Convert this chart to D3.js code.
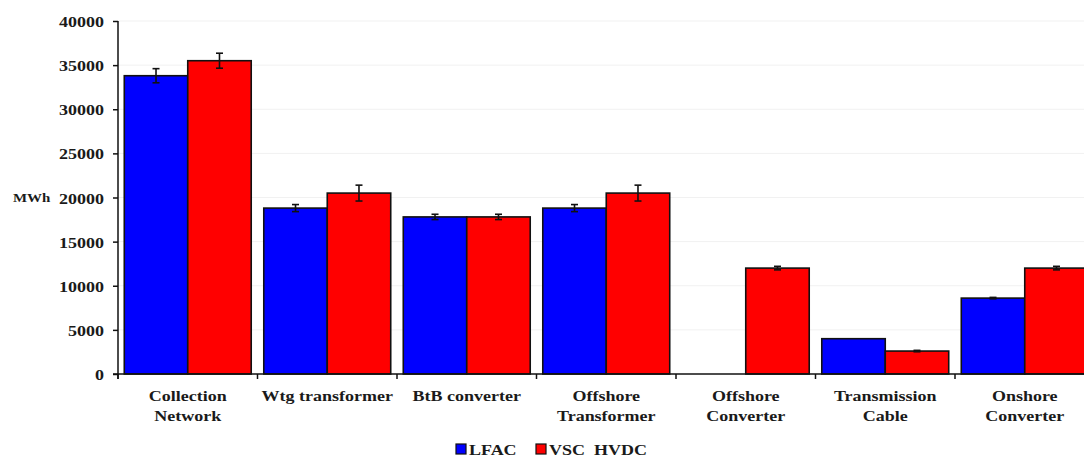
<!DOCTYPE html>
<html>
<head>
<meta charset="utf-8">
<script src="https://cdn.jsdelivr.net/npm/d3@7"></script>
<style>
  body { margin: 0; background: #fff; }
  svg { display: block; }
  text { font-family: "Liberation Serif", "Times New Roman", serif; font-weight: bold; fill: #1a1a1a; }
</style>
</head>
<body>
<svg id="chart" width="1084" height="457"></svg>
<script>
// Energy losses per component (MWh) for the two transmission options
const categories = [
  ["Collection", "Network"],
  ["Wtg transformer"],
  ["BtB converter"],
  ["Offshore", "Transformer"],
  ["Offshore", "Converter"],
  ["Transmission", "Cable"],
  ["Onshore", "Converter"]
];
const seriesNames = ["LFAC", "VSC  HVDC"];
const lfacValues = [33800, 18800, 17800, 18800, 0, 4000, 8600];
const lfacErrors = [800, 400, 300, 400, 0, 0, 80];
const hvdcValues = [35500, 20500, 17800, 20500, 12000, 2600, 12000];
const hvdcErrors = [850, 900, 300, 900, 200, 80, 200];
const yTicks = [0, 5000, 10000, 15000, 20000, 25000, 30000, 35000, 40000];
const yLabel = "MWh";
const colors = ["#0000ff", "#ff0000"];

const svg = d3.select("#chart");
const x0 = 118, yTop = 21, yBottom = 374;
const step = 139.5;
const xRight = x0 + step * categories.length;

const x = d3.scaleBand()
  .domain(d3.range(categories.length))
  .range([x0, xRight])
  .paddingInner(0.09)
  .paddingOuter(0.045);
const xs = d3.scaleBand().domain([0, 1]).range([0, x.bandwidth()]);
const y = d3.scaleLinear().domain([0, 40000]).range([yBottom, yTop]);

// faint horizontal gridlines
svg.append("g").selectAll("line")
  .data(yTicks.filter(d => d > 0))
  .join("line")
  .attr("x1", x0).attr("x2", 1084)
  .attr("y1", d => y(d)).attr("y2", d => y(d))
  .attr("stroke", "#f1f1f1").attr("stroke-width", 1);

// bars
const series = [
  { vals: lfacValues, errs: lfacErrors },
  { vals: hvdcValues, errs: hvdcErrors }
];
const barData = [];
categories.forEach((c, i) => {
  series.forEach((s, k) => {
    barData.push({ i, k, v: s.vals[i], e: s.errs[i] });
  });
});

svg.append("g").selectAll("rect")
  .data(barData.filter(d => d.v > 0))
  .join("rect")
  .attr("x", d => x(d.i) + xs(d.k))
  .attr("y", d => y(d.v))
  .attr("width", xs.bandwidth())
  .attr("height", d => y(0) - y(d.v))
  .attr("fill", d => colors[d.k])
  .attr("stroke", "#111").attr("stroke-width", 1.6);

// error bars
const eb = svg.append("g").attr("stroke", "#111").attr("stroke-width", 1.6);
barData.filter(d => d.v > 0 && d.e > 0).forEach(d => {
  const cx = x(d.i) + xs(d.k) + xs.bandwidth() / 2;
  eb.append("line").attr("x1", cx).attr("x2", cx)
    .attr("y1", y(d.v + d.e)).attr("y2", y(d.v - d.e));
  [d.v + d.e, d.v - d.e].forEach(t => {
    eb.append("line").attr("x1", cx - 3.5).attr("x2", cx + 3.5)
      .attr("y1", y(t)).attr("y2", y(t));
  });
});

// y axis
const yAxis = svg.append("g")
  .attr("transform", `translate(${x0},0)`)
  .call(d3.axisLeft(y).tickValues(yTicks).tickSize(5).tickPadding(9).tickFormat(d3.format("d")));
yAxis.select(".domain").attr("stroke", "#111").attr("stroke-width", 1.5)
  .attr("d", `M0,${yTop}V${yBottom + 5}`);
yAxis.selectAll(".tick line").attr("stroke", "#111").attr("stroke-width", 1.5);
yAxis.selectAll(".tick text")
  .attr("x", null).attr("dy", null)
  .attr("transform", "translate(-14,5.5) scale(1.2,1)")
  .style("font-size", "15px")
  .style("font-family", "'Liberation Serif', serif")
  .style("font-weight", "bold")
  .attr("fill", "#1a1a1a");

// x axis line and category boundary ticks
const xa = svg.append("g").attr("stroke", "#111").attr("stroke-width", 1.5);
xa.append("line").attr("x1", x0 - 5).attr("x2", 1084).attr("y1", yBottom).attr("y2", yBottom);
d3.range(categories.length + 1).forEach(i => {
  const bx = x0 + x.step() * i;
  xa.append("line").attr("x1", bx).attr("x2", bx).attr("y1", yBottom).attr("y2", yBottom + 5);
});

// category labels
const lab = svg.append("g");
categories.forEach((lines, i) => {
  const cx = x(i) + x.bandwidth() / 2;
  lines.forEach((t, j) => {
    lab.append("text")
      .attr("transform", `translate(${cx},${401 + j * 20}) scale(1.2,1)`)
      .attr("text-anchor", "middle")
      .style("font-size", "15px")
      .text(t);
  });
});

// y label
svg.append("text")
  .attr("transform", "translate(13,202) scale(1.15,1)")
  .style("font-size", "13px")
  .text(yLabel);

// legend
const legX = [456, 536];
seriesNames.forEach((n, k) => {
  const g = svg.append("g").attr("transform", `translate(${legX[k]},444)`);
  g.append("rect").attr("width", 10).attr("height", 10)
    .attr("fill", colors[k]).attr("stroke", "#111").attr("stroke-width", 1.2);
  g.append("text")
    .attr("transform", "translate(13,10.5) scale(1.2,1)")
    .style("font-size", "15px")
    .style("white-space", "pre")
    .attr("xml:space", "preserve")
    .text(n);
});
</script>
</body>
</html>
